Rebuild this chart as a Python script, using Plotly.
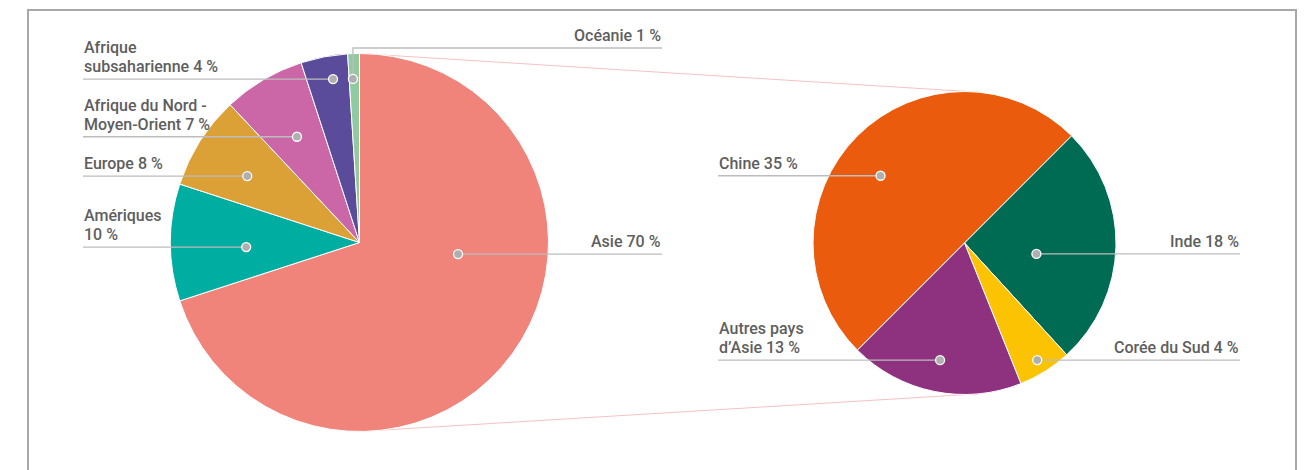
import math
import plotly.graph_objects as go

# the page body has an 8 px margin: the figure is shrunk by it and every
# pixel position below (measured on the full 1307x470 window) is shifted back
OFF = 8
W, H = 1307 - OFF, 470 - OFF

# ---------------- data ----------------
region_names = ["Asie", "Amériques", "Europe", "Afrique du Nord -\nMoyen-Orient",
                "Afrique\nsubsaharienne", "Océanie"]
region_values = [70, 10, 8, 7, 4, 1]
region_value_sep = [" ", "\n", " ", " ", " ", " "]
region_colors = ["#F0837A", "#00ADA1", "#DBA136", "#CB67A6", "#5B4C9B", "#8ECBA1"]

asia_names = ["Chine", "Inde", "Corée du Sud", "Autres pays\nd’Asie"]
asia_values = [35, 18, 4, 13]
asia_value_sep = [" ", " ", " ", " "]
asia_colors = ["#EB5B0E", "#006B53", "#FBC301", "#8E317F"]

# ---------------- layout / style ----------------
LEFT = dict(cx=359.5, cy=242.5, r=189.0, rotation=0)
RIGHT = dict(cx=964.5, cy=243.0, r=151.5, rotation=225)

# per label: side, angle offset from slice bisector, radial fraction of dot, elbow y
region_label_style = [
    dict(side="right", da=-29.3, rf=0.525),
    dict(side="left", da=-2.3, rf=0.60),
    dict(side="left", da=-1.8, rf=0.69),
    dict(side="left", da=0.0, rf=0.65),
    dict(side="left", da=1.6, rf=0.876),
    dict(side="right", da=-0.5, rf=0.866, elbow=48),
]
asia_label_style = [
    dict(side="left", da=-6.3, rf=0.71),
    dict(side="right", da=7.3, rf=0.48),
    dict(side="right", da=0.3, rf=0.91),
    dict(side="left", da=0.2, rf=0.79),
]
LEFT_LABEL_X = dict(left=83, right=662)
RIGHT_LABEL_X = dict(left=718, right=1240)
LINE_STEP = 19

TEXT_COLOR = "#5E5E5E"
LEADER_COLOR = "#BDBDBD"
FONT = dict(family="Roboto, Arial, sans-serif", size=16, color=TEXT_COLOR, weight=500)


def px(x):
    return (x - OFF) / W


def py(y):
    return 1 - (y - OFF) / H


def domain(g):
    return dict(x=[px(g["cx"] - g["r"]), px(g["cx"] + g["r"])],
                y=[py(g["cy"] + g["r"]), py(g["cy"] - g["r"])])


def polar(g, ang_deg, rf):
    a = math.radians(ang_deg)
    return g["cx"] + rf * g["r"] * math.sin(a), g["cy"] - rf * g["r"] * math.cos(a)


def mid_angles(values, rotation):
    tot = sum(values)
    out, cum = [], 0
    for v in values:
        out.append(rotation + 360 * (cum + v / 2) / tot)
        cum += v
    return out


fig = go.Figure()
for g, names, vals, cols in [(LEFT, region_names, region_values, region_colors),
                             (RIGHT, asia_names, asia_values, asia_colors)]:
    fig.add_trace(go.Pie(
        labels=[n.replace("\n", " ") for n in names], values=vals,
        marker=dict(colors=cols, line=dict(color="white", width=1)),
        sort=False, direction="clockwise", rotation=g["rotation"],
        textinfo="none", hoverinfo="skip", domain=domain(g), showlegend=False,
    ))

shapes = []
annotations = []

# connector lines between the two pies
top_l = polar(LEFT, 0, 1.0)
bot_l = polar(LEFT, 180, 1.0)
top_r = polar(RIGHT, 5.4, 1.0)
bot_r = polar(RIGHT, 174.6, 1.0)
for (x0, y0), (x1, y1) in [(top_l, top_r), (bot_l, bot_r)]:
    shapes.append(dict(type="line", xref="paper", yref="paper", layer="below",
                       x0=px(x0), y0=py(y0), x1=px(x1), y1=py(y1),
                       line=dict(color="rgba(236,100,100,0.5)", width=0.8)))

# frame
shapes.append(dict(type="rect", xref="paper", yref="paper", layer="above",
                   x0=px(28), x1=px(1296), y0=-0.2, y1=py(10),
                   line=dict(color="#A8A8A8", width=2)))


def add_labels(g, names, vals, seps, styles, label_x):
    angs = mid_angles(vals, g["rotation"])
    for name, v, sep, st, a in zip(names, vals, seps, styles, angs):
        dx, dy = polar(g, a + st["da"], st["rf"])
        lx = label_x[st["side"]]
        if "elbow" in st:
            ly = st["elbow"]
            shapes.append(dict(type="path", xref="paper", yref="paper", layer="above",
                               path=f"M {px(dx)},{py(dy)} L {px(dx)},{py(ly)} L {px(lx)},{py(ly)}",
                               line=dict(color=LEADER_COLOR, width=1.3)))
        else:
            ly = dy
            shapes.append(dict(type="line", xref="paper", yref="paper", layer="above",
                               x0=px(dx), y0=py(dy), x1=px(lx), y1=py(ly),
                               line=dict(color=LEADER_COLOR, width=1.3)))
        rr = 4.5
        shapes.append(dict(type="circle", xref="paper", yref="paper", layer="above",
                           x0=px(dx - rr), x1=px(dx + rr), y0=py(dy + rr), y1=py(dy - rr),
                           fillcolor="#AFAFAF", line=dict(color="white", width=1.3)))
        lines = (name + sep + f"{v} %").split("\n")
        for k, line in enumerate(reversed(lines)):
            annotations.append(dict(
                xref="paper", yref="paper", x=px(lx), y=py(ly - 2 - k * LINE_STEP),
                xanchor=st["side"], yanchor="bottom", align=st["side"],
                text=line, showarrow=False, font=FONT, borderpad=0,
            ))


add_labels(LEFT, region_names, region_values, region_value_sep, region_label_style, LEFT_LABEL_X)
add_labels(RIGHT, asia_names, asia_values, asia_value_sep, asia_label_style, RIGHT_LABEL_X)

fig.update_layout(
    width=W, height=H,
    margin=dict(l=0, r=0, t=0, b=0),
    paper_bgcolor="white", plot_bgcolor="white",
    shapes=shapes, annotations=annotations,
    showlegend=False,
)

fig.write_html("out.html")
